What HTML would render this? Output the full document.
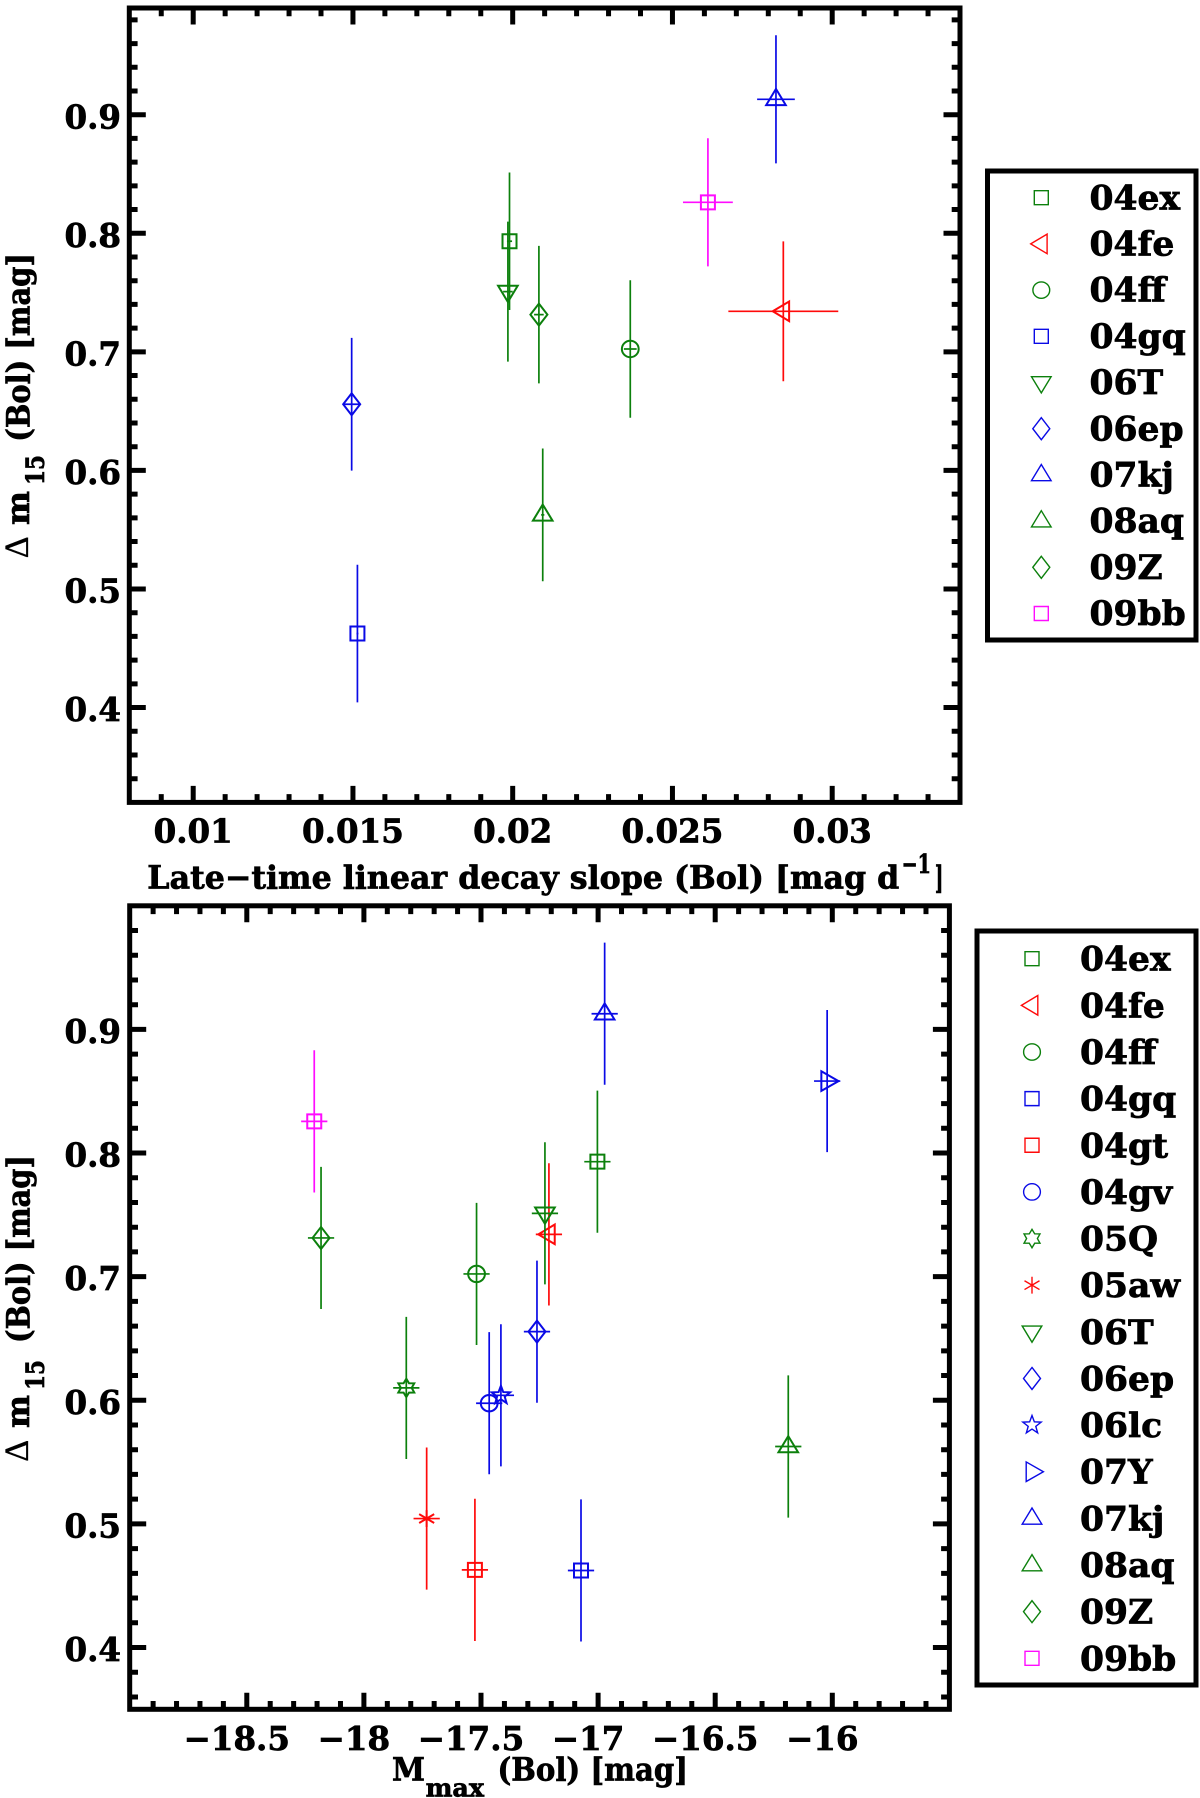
<!DOCTYPE html>
<html lang="en">
<head>
<meta charset="utf-8">
<title>Late-time decay slope and peak magnitude versus Delta m15</title>
<style>
  html, body { margin: 0; padding: 0; background: #ffffff; }
  svg { display: block; }
  text { font-family: "DejaVu Serif", "Liberation Serif", serif; font-weight: bold; fill: #000; stroke: #000; stroke-width: 0.7px; }
  .sym { font-family: "Liberation Serif", "DejaVu Serif", serif; font-weight: normal; stroke-width: 0.3px; }
</style>
</head>
<body>
<svg id="chart" xmlns="http://www.w3.org/2000/svg" width="1200" height="1798" viewBox="0 0 1200 1798">
  <rect x="0" y="0" width="1200" height="1798" fill="#ffffff"/>

  <g>
    <text x="147.3" y="888.3" font-size="32" textLength="752" lengthAdjust="spacingAndGlyphs">Late−time linear decay slope (Bol) [mag d</text>
    <text x="901.6" y="873" font-size="26" textLength="29.4" lengthAdjust="spacingAndGlyphs">−1</text>
    <text x="934.9" y="888.3" font-size="32" textLength="8.4" lengthAdjust="spacingAndGlyphs">]</text>
  </g>
  <g>
    <text class="sym" transform="translate(27.5 558.3) rotate(-90)" font-size="34">Δ</text>
    <text transform="translate(29 525) rotate(-90)" font-size="32" textLength="34" lengthAdjust="spacingAndGlyphs">m</text>
    <text transform="translate(44 485) rotate(-90)" font-size="25" textLength="30" lengthAdjust="spacingAndGlyphs">15</text>
    <text transform="translate(29.5 441.7) rotate(-90)" font-size="32" textLength="188.7" lengthAdjust="spacingAndGlyphs">(Bol) [mag]</text>
  </g>

  <g>
    <text x="392" y="1780.7" font-size="32" textLength="33" lengthAdjust="spacingAndGlyphs">M</text>
    <text x="425.6" y="1796.7" font-size="25" textLength="58.4" lengthAdjust="spacingAndGlyphs">max</text>
    <text x="497.5" y="1780.7" font-size="32" textLength="190.5" lengthAdjust="spacingAndGlyphs">(Bol) [mag]</text>
  </g>
  <g>
    <text class="sym" transform="translate(27.5 1461.7) rotate(-90)" font-size="34">Δ</text>
    <text transform="translate(29 1428) rotate(-90)" font-size="32" textLength="33" lengthAdjust="spacingAndGlyphs">m</text>
    <text transform="translate(44 1390) rotate(-90)" font-size="25" textLength="30" lengthAdjust="spacingAndGlyphs">15</text>
    <text transform="translate(29.5 1343) rotate(-90)" font-size="32" textLength="188" lengthAdjust="spacingAndGlyphs">(Bol) [mag]</text>
  </g>
</svg>

<script>
// ---- Top panel data ----
const topNames = ['04ex', '04fe', '04ff', '04gq', '06T', '06ep', '07kj', '08aq', '09Z', '09bb'];
const topSlope = [0.0199, 0.02847, 0.02368, 0.01514, 0.01985, 0.01496, 0.02824, 0.02094, 0.02082, 0.02611];
const topDm15 = [0.7933, 0.7342, 0.7024, 0.4624, 0.7508, 0.6558, 0.913, 0.5625, 0.7314, 0.8261];
const topSlopeErr = [0.00008, 0.00172, 0.0002, 0.00003, 0.00015, 0.00025, 0.00059, 0.00005, 0.00015, 0.00078];
const topDm15Err = [0.058, 0.059, 0.058, 0.058, 0.059, 0.056, 0.054, 0.056, 0.058, 0.054];
const topXTicks = [0.01, 0.015, 0.02, 0.025, 0.03];
const topXTickLabels = ['0.01', '0.015', '0.02', '0.025', '0.03'];
const topYTicks = [0.4, 0.5, 0.6, 0.7, 0.8, 0.9];
const topYTickLabels = ['0.4', '0.5', '0.6', '0.7', '0.8', '0.9'];

// ---- Bottom panel data ----
const bottomNames = ['04ex', '04fe', '04ff', '04gq', '04gt', '04gv', '05Q', '05aw', '06T', '06ep', '06lc', '07Y', '07kj', '08aq', '09Z', '09bb'];
const bottomMmax = [-17.003, -17.21, -17.519, -17.073, -17.526, -17.465, -17.819, -17.732, -17.227, -17.261, -17.415, -16.022, -16.972, -16.188, -18.183, -18.212];
const bottomDm15 = [0.793, 0.7342, 0.7022, 0.4623, 0.4628, 0.5976, 0.61, 0.5043, 0.7512, 0.6555, 0.604, 0.8582, 0.9127, 0.5626, 0.7313, 0.8256];
const bottomMmaxErr = [0.056, 0.056, 0.056, 0.056, 0.056, 0.056, 0.056, 0.056, 0.056, 0.056, 0.056, 0.056, 0.056, 0.056, 0.056, 0.056];
const bottomDm15Err = [0.0575, 0.0575, 0.0575, 0.0575, 0.0575, 0.0575, 0.0575, 0.0575, 0.0575, 0.0575, 0.0575, 0.0575, 0.0575, 0.0575, 0.0575, 0.0575];
const bottomXTicks = [-18.5, -18, -17.5, -17, -16.5, -16];
const bottomXTickLabels = ['−18.5', '−18', '−17.5', '−17', '−16.5', '−16'];
const bottomYTicks = [0.4, 0.5, 0.6, 0.7, 0.8, 0.9];
const bottomYTickLabels = ['0.4', '0.5', '0.6', '0.7', '0.8', '0.9'];

// ---- Marker style per supernova ----
const GREEN = '#0c800c', RED = '#ff0a0a', BLUE = '#0a0ae6', MAGENTA = '#ff0cff';
const seriesColor = {
  '04ex': GREEN, '04fe': RED, '04ff': GREEN, '04gq': BLUE, '04gt': RED, '04gv': BLUE,
  '05Q': GREEN, '05aw': RED, '06T': GREEN, '06ep': BLUE, '06lc': BLUE, '07Y': BLUE,
  '07kj': BLUE, '08aq': GREEN, '09Z': GREEN, '09bb': MAGENTA
};
const seriesShape = {
  '04ex': 'square', '04fe': 'left', '04ff': 'circle', '04gq': 'square', '04gt': 'square', '04gv': 'circle',
  '05Q': 'hexagram', '05aw': 'asterisk', '06T': 'down', '06ep': 'diamond', '06lc': 'star', '07Y': 'right',
  '07kj': 'up', '08aq': 'up', '09Z': 'diamond', '09bb': 'square'
};

const SVG_NS = 'http://www.w3.org/2000/svg';
const root = document.getElementById('chart');

function make(parent, tag, attrs) {
  const node = document.createElementNS(SVG_NS, tag);
  for (const key in attrs) node.setAttribute(key, attrs[key]);
  parent.appendChild(node);
  return node;
}
function linearAxis(d0, d1, r0, r1) {
  return function (v) { return r0 + (v - d0) * (r1 - r0) / (d1 - d0); };
}
function stretch(textEl, factor) {
  const natural = textEl.getComputedTextLength();
  textEl.setAttribute('textLength', (natural * factor).toFixed(2));
  textEl.setAttribute('lengthAdjust', 'spacingAndGlyphs');
}
function polyPoints(cx, cy, offsets) {
  return offsets.map(function (o) { return (cx + o[0]).toFixed(2) + ',' + (cy + o[1]).toFixed(2); }).join(' ');
}
function starOffsets(tips, outer, inner) {
  const out = [];
  for (let i = 0; i < tips * 2; i++) {
    const r = i % 2 === 0 ? outer : inner;
    const a = -Math.PI / 2 + i * Math.PI / tips;
    out.push([r * Math.cos(a), r * Math.sin(a)]);
  }
  return out;
}
function drawMarker(parent, name, cx, cy, width) {
  const shape = seriesShape[name];
  const style = { fill: 'none', stroke: seriesColor[name], 'stroke-width': width };
  let el;
  if (shape === 'circle') {
    el = make(parent, 'ellipse', Object.assign({ cx: cx, cy: cy, rx: 8.4, ry: 8.2 }, style));
  } else if (shape === 'asterisk') {
    el = make(parent, 'path', Object.assign({
      d: 'M' + cx + ' ' + (cy - 8.4) + 'V' + (cy + 8.4) +
         'M' + (cx - 7.5) + ' ' + (cy - 4.4) + 'L' + (cx + 7.5) + ' ' + (cy + 4.4) +
         'M' + (cx - 7.5) + ' ' + (cy + 4.4) + 'L' + (cx + 7.5) + ' ' + (cy - 4.4)
    }, style));
  } else {
    let offsets;
    if (shape === 'square') offsets = [[-7, -7], [7, -7], [7, 7], [-7, 7]];
    if (shape === 'diamond') offsets = [[0, -11], [8.5, 0], [0, 11], [-8.5, 0]];
    if (shape === 'up') offsets = [[0, -10.4], [9.8, 5.8], [-9.8, 5.8]];
    if (shape === 'down') offsets = [[-9.8, -5.8], [9.8, -5.8], [0, 10.4]];
    if (shape === 'left') offsets = [[-10.6, 0], [5.8, -9.8], [5.8, 9.8]];
    if (shape === 'right') offsets = [[-5.8, -9.8], [11.4, 0], [-5.8, 9.8]];
    if (shape === 'star') offsets = starOffsets(5, 9.6, 4);
    if (shape === 'hexagram') offsets = starOffsets(6, 9.2, 5.4);
    el = make(parent, 'polygon', Object.assign({ points: polyPoints(cx, cy, offsets) }, style));
  }
  return el;
}

function drawPanel(p) {
  const x = linearAxis(p.xDomain[0], p.xDomain[1], p.left, p.right);
  const y = linearAxis(p.yDomain[0], p.yDomain[1], p.bottom, p.top);

  const panel = make(root, 'g', {});
  
  

  // Error bars and markers
  const points = make(panel, 'g', {});
  
  
  p.names.forEach(function (name, i) {
    const g = make(points, 'g', {});
    
    

    const cx = x(p.xs[i]);
    const cy = y(p.ys[i]);
    const vBar = make(g, 'line', { x1: cx, x2: cx, y1: y(p.ys[i] + p.yErr[i]), y2: y(p.ys[i] - p.yErr[i]), stroke: seriesColor[name], 'stroke-width': 1.7 });
    
    

    const hBar = make(g, 'line', { x1: x(p.xs[i] - p.xErr[i]), x2: x(p.xs[i] + p.xErr[i]), y1: cy, y2: cy, stroke: seriesColor[name], 'stroke-width': 1.7 });
    
    

    const mark = drawMarker(g, name, cx, cy, 2);
    
    
  });

  // Ticks
  const ticks = make(panel, 'g', { fill: 'none', stroke: '#000' });
  
  

  function tickPath(isMajor, d) {
    const t = make(ticks, 'path', { d: d, 'stroke-width': 5 });
    
    
  }
  const MAJOR = 16.5, MINOR = 8.3;
  const xFirst = Math.ceil(p.xDomain[0] / p.xMinor + 1e-6);
  const xLast = Math.floor(p.xDomain[1] / p.xMinor - 1e-6);
  for (let k = xFirst; k <= xLast; k++) {
    const v = k * p.xMinor;
    const major = p.xTicks.some(function (t) { return Math.abs(t - v) < p.xMinor / 4; });
    const len = major ? MAJOR : MINOR;
    const px = x(v).toFixed(2);
    tickPath(major, 'M' + px + ' ' + p.top + 'v' + len + 'M' + px + ' ' + p.bottom + 'v' + (-len));
  }
  const yFirst = Math.ceil(p.yDomain[0] / p.yMinor + 1e-6);
  const yLast = Math.floor(p.yDomain[1] / p.yMinor - 1e-6);
  for (let k = yFirst; k <= yLast; k++) {
    const v = k * p.yMinor;
    const major = p.yTicks.some(function (t) { return Math.abs(t - v) < p.yMinor / 4; });
    const len = major ? MAJOR : MINOR;
    const py = y(v).toFixed(2);
    tickPath(major, 'M' + p.left + ' ' + py + 'h' + len + 'M' + p.right + ' ' + py + 'h' + (-len));
  }

  // Frame
  const frame = make(panel, 'rect', { x: p.left, y: p.top, width: p.right - p.left, height: p.bottom - p.top, fill: 'none', stroke: '#000', 'stroke-width': 5 });
  
  

  // Tick labels
  p.xTicks.forEach(function (v, i) {
    const t = make(panel, 'text', { x: x(v) + p.xLabelShift, y: p.xLabelY, 'font-size': 32.5, 'text-anchor': 'middle' });
    
    
    t.textContent = p.xLabels[i];
  });
  p.yTicks.forEach(function (v, i) {
    const t = make(panel, 'text', { x: 121, y: y(v) + 13.6, 'font-size': 32.5, 'text-anchor': 'end' });
    
    
    t.textContent = p.yLabels[i];
  });

  // Legend
  const legend = make(panel, 'g', {});
  
  
  const box = make(legend, 'rect', { x: p.legend.left, y: p.legend.top, width: p.legend.right - p.legend.left, height: p.legend.bottom - p.legend.top, fill: '#fff', stroke: '#000', 'stroke-width': 5 });
  
  
  p.names.forEach(function (name, i) {
    const entry = make(legend, 'g', {});
    
    

    const m = drawMarker(entry, name, p.legend.markerX, p.legend.markerY + i * p.legend.step, 1.4);
    
    

    const label = make(entry, 'text', { x: p.legend.textX, y: p.legend.textY + i * p.legend.step, 'font-size': 33.5 });
    
    
    label.textContent = name;
    stretch(label, 1.03);
  });
}

drawPanel({
  id: 'top',
  left: 129.3, right: 960, top: 8, bottom: 802.4,
  xDomain: [0.008, 0.034], yDomain: [0.32, 0.99],
  xMinor: 0.001, yMinor: 0.02,
  names: topNames, xs: topSlope, ys: topDm15, xErr: topSlopeErr, yErr: topDm15Err,
  xTicks: topXTicks, xLabels: topXTickLabels, yTicks: topYTicks, yLabels: topYTickLabels,
  xLabelY: 842.3, xLabelShift: 0,
  legend: { left: 987.5, right: 1196, top: 171, bottom: 640, markerX: 1041.3, markerY: 197.7, textX: 1089.5, textY: 209.3, step: 46.2 }
});

drawPanel({
  id: 'bottom',
  left: 129.7, right: 949.4, top: 905.8, bottom: 1709.3,
  xDomain: [-19, -15.5], yDomain: [0.35, 1.0],
  xMinor: 0.1, yMinor: 0.02,
  names: bottomNames, xs: bottomMmax, ys: bottomDm15, xErr: bottomMmaxErr, yErr: bottomDm15Err,
  xTicks: bottomXTicks, xLabels: bottomXTickLabels, yTicks: bottomYTicks, yLabels: bottomYTickLabels,
  xLabelY: 1750, xLabelShift: -10,
  legend: { left: 977, right: 1196, top: 931, bottom: 1685, markerX: 1032, markerY: 958.7, textX: 1080, textY: 970.7, step: 46.64 }
});
</script>
</body>
</html>
